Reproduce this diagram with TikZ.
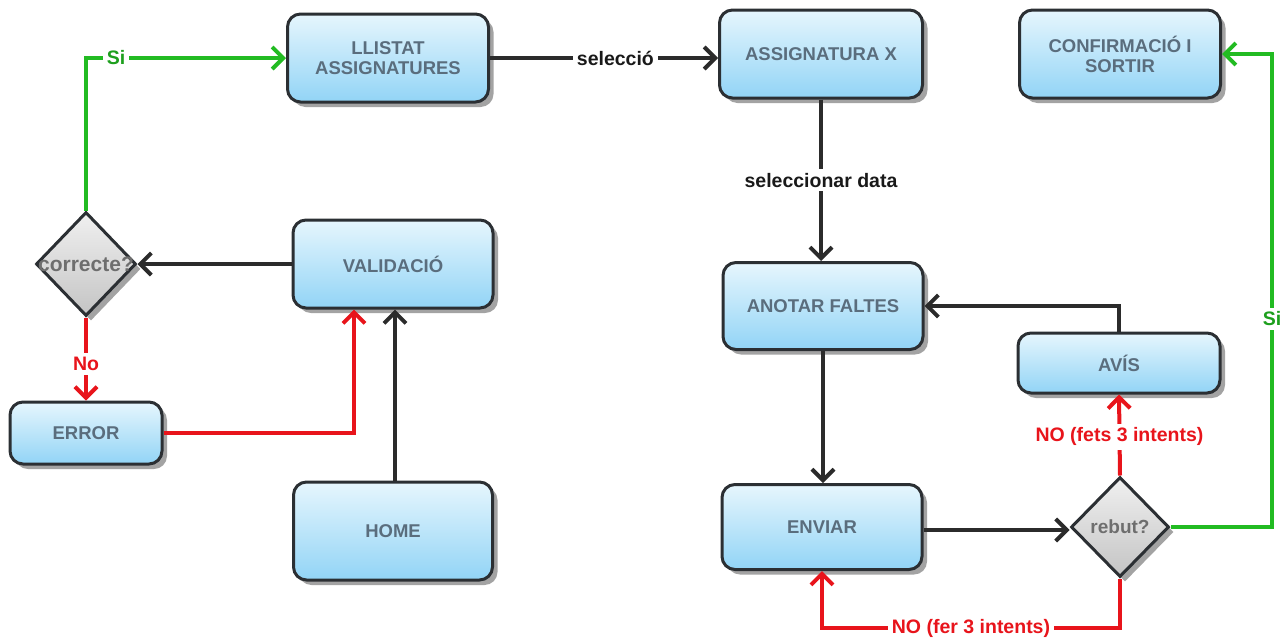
\documentclass[tikz,border=0pt]{standalone}
\usepackage{fontspec}
\setmainfont{Liberation Sans}
\usetikzlibrary{shapes.geometric,arrows.meta,shadows}
\definecolor{boxtext}{HTML}{5A6D7D}
\definecolor{boxedge}{HTML}{2B2F33}
\definecolor{topblue}{HTML}{E6F6FD}
\definecolor{botblue}{HTML}{92D4F6}
\definecolor{lgreen}{HTML}{22BB22}
\definecolor{lred}{HTML}{E8141B}
\definecolor{lblack}{HTML}{2B2B2B}
\definecolor{dtext}{HTML}{6E6E6E}
\definecolor{dtop}{HTML}{F0F0F0}
\definecolor{dbot}{HTML}{C4C4C4}
\tikzset{
  box/.style={rectangle, rounded corners=13pt, draw=boxedge, line width=3pt,
    top color=topblue, bottom color=botblue, text=boxtext,
    font=\fontsize{18.5}{20}\selectfont\bfseries, align=center,
    minimum width=200pt, minimum height=88pt, inner sep=0pt,
    drop shadow={shadow xshift=5pt, shadow yshift=-5pt, fill=black!45, opacity=0.8}},
  dia/.style={diamond, draw=boxedge, line width=3pt, top color=dtop, bottom color=dbot,
    minimum width=100pt, minimum height=104pt, inner sep=0pt,
    drop shadow={shadow xshift=5pt, shadow yshift=-5pt, fill=black!45, opacity=0.8}},
  dtxt/.style={text=dtext, font=\fontsize{19}{21}\selectfont\bfseries},
  conn/.style={line width=4pt, -{Straight Barb[length=11pt,width=22pt]}},
  kline/.style={conn, draw=lblack},
  gline/.style={conn, draw=lgreen},
  rline/.style={conn, draw=lred},
  klab/.style={fill=white, text=black!90, font=\fontsize{19.5}{21}\selectfont\bfseries, inner sep=4pt},
  glab/.style={fill=white, text=lgreen!85!black, font=\fontsize{19.5}{21}\selectfont\bfseries, inner sep=4pt},
  rlab/.style={fill=white, text=lred, font=\fontsize{19.5}{21}\selectfont\bfseries, inner sep=4pt},
}
\begin{document}
\begin{tikzpicture}[x=1pt,y=-1pt]
\useasboundingbox (0,0) rectangle (1286,638);
% boxes
\node[box, minimum width=201pt] (llist) at (388,58) {LLISTAT\\ASSIGNATURES};
\node[box, minimum width=203pt] (assx) at (821,54) {ASSIGNATURA X};
\node[box, minimum width=201pt] (conf) at (1120,54) {CONFIRMACIÓ I\\SORTIR};
\node[box] (valid) at (393,264) {VALIDACIÓ};
\node[box, minimum height=87pt] (anot) at (823,306) {ANOTAR FALTES};
\node[box, minimum width=202pt, minimum height=60pt] (avis) at (1119,363) {AVÍS};
\node[box, minimum width=152pt, minimum height=62pt] (err) at (86,433) {ERROR};
\node[box, minimum width=199pt, minimum height=98pt] (home) at (393,531) {HOME};
\node[box, minimum height=85pt] (env) at (822,527) {ENVIAR};
% decisions
\node[dia, label={[dtxt, font=\fontsize{21}{23}\selectfont\bfseries]center:correcte?}] (corr) at (86,264) {};
\node[dia, minimum width=98pt, minimum height=100pt, label={[dtxt]center:rebut?}] (rebut) at (1120,527) {};
% helper coordinates
\coordinate (gx) at (1272,0);
\coordinate (ry) at (0,628);
% connectors
\draw[gline] (corr.north) |- node[glab, pos=0.575] {Si} (llist.west);
\draw[kline] (llist.east) -- node[klab, pos=0.55] {selecció} (assx.west |- llist.east);
\draw[kline] (assx.south) -- node[klab] {seleccionar data} (assx.south |- anot.north);
\draw[kline] (valid.west) -- (corr.east);
\draw[rline] (corr.south) -- node[rlab, pos=0.56] {No} (err.north);
\draw[rline] (err.east) -| ([xshift=-39pt]valid.south);
\draw[kline] ([xshift=2pt]home.north) -- ([xshift=2pt]valid.south);
\draw[kline] (anot.south) -- (anot.south |- env.north);
\draw[kline] ([yshift=-3pt]env.east) -- ([yshift=-3pt]rebut.west);
\draw[rline] (rebut.north) -- node[rlab, pos=0.48] {NO (fets 3 intents)} (avis.south);
\draw[kline] (avis.north) |- (anot.east);
\draw[gline] (rebut.east) -- (rebut.east -| gx) -- node[glab, pos=0.44] {Si} (conf.east -| gx) -- (conf.east);
\draw[rline] (rebut.south) -- (rebut.south |- ry) -- node[rlab] {NO (fer 3 intents)} (env.south |- ry) -- (env.south);
\end{tikzpicture}
\end{document}
